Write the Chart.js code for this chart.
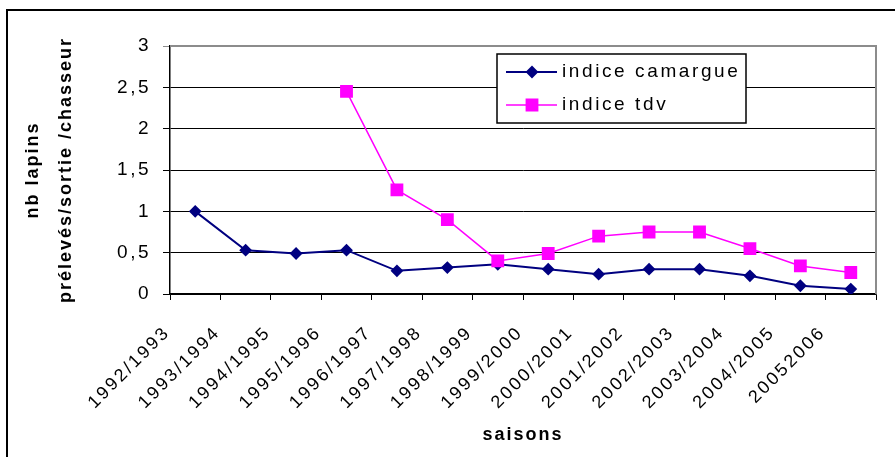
<!DOCTYPE html>
<html lang="fr">
<head>
<meta charset="UTF-8">
<title>Indice lapins prélevés</title>
<script src="https://cdn.jsdelivr.net/npm/chart.js"></script>
<style>
  body { margin: 0; background: #fff; }
  #wrap { position: relative; width: 895px; height: 457px; overflow: hidden; }
  #cadre {
    position: absolute; left: 6px; top: 9px; width: 1000px; height: 1000px;
    border-top: 2px solid #000; border-left: 2px solid #000;
  }
  canvas { position: absolute; left: 0; top: 0; }
</style>
</head>
<body>
<div id="wrap">
  <div id="cadre"></div>
  <canvas id="graph" width="895" height="457"></canvas>
</div>
<script>
// données
const saisons = ['1992/1993', '1993/1994', '1994/1995', '1995/1996', '1996/1997', '1997/1998',
  '1998/1999', '1999/2000', '2000/2001', '2001/2002', '2002/2003', '2003/2004', '2004/2005', '20052006'];
const indiceCamargue = [1.0, 0.53, 0.49, 0.53, 0.28, 0.32, 0.36, 0.30, 0.24, 0.30, 0.30, 0.22, 0.10, 0.06];
const indiceTdv = [null, null, null, 2.45, 1.26, 0.90, 0.40, 0.49, 0.70, 0.75, 0.75, 0.55, 0.34, 0.26];
const yMin = 0, yMax = 3, yPas = 0.5;
const titreY = ['nb lapins', 'prélevés/sortie /chasseur'];
const titreX = 'saisons';

const police = '"Liberation Sans", Arial, sans-serif';
Chart.defaults.font.family = police;
Chart.defaults.color = '#000';

// texte un peu espacé comme dans Excel
const espacement = {
  id: 'espacement',
  beforeDraw(chart) { chart.ctx.letterSpacing = '2.5px'; }
};

// cadre gris du haut et de droite de la zone de tracé
const cadreZone = {
  id: 'cadreZone',
  beforeDatasetsDraw(chart) {
    const { ctx, chartArea: a } = chart;
    ctx.save();
    ctx.strokeStyle = '#8c8c8c';
    ctx.lineWidth = 2;
    ctx.beginPath();
    ctx.moveTo(a.left, a.top);
    ctx.lineTo(a.right, a.top);
    ctx.lineTo(a.right, a.bottom);
    ctx.stroke();
    ctx.restore();
  }
};

// légende façon Excel (trait + marqueur) et titres des axes
const legendeExcel = {
  id: 'legendeExcel',
  afterDraw(chart) {
    const ctx = chart.ctx;
    const a = chart.chartArea;
    ctx.save();
    ctx.fillStyle = '#fff';
    ctx.strokeStyle = '#000';
    ctx.lineWidth = 1.5;
    ctx.fillRect(497, 54, 249, 69);
    ctx.strokeRect(497, 54, 249, 69);
    ctx.font = '19px ' + police;
    ctx.letterSpacing = '2.6px';
    ctx.textBaseline = 'middle';
    chart.data.datasets.forEach((ds, i) => {
      const y = 72 + i * 33;
      ctx.strokeStyle = ds.borderColor;
      ctx.lineWidth = ds.borderWidth;
      ctx.beginPath();
      ctx.moveTo(506, y);
      ctx.lineTo(557, y);
      ctx.stroke();
      ctx.fillStyle = ds.pointBackgroundColor;
      ctx.strokeStyle = ds.pointBorderColor;
      Chart.helpers.drawPoint(ctx, { pointStyle: ds.pointStyle, radius: ds.pointRadius, rotation: 0, borderWidth: 1 }, 532, y);
      ctx.fillStyle = '#000';
      ctx.fillText(ds.label, 562, y);
    });

    // titre des abscisses
    ctx.font = 'bold 18px ' + police;
    ctx.letterSpacing = '2px';
    ctx.textAlign = 'center';
    ctx.fillText(titreX, (a.left + a.right) / 2, 435);

    // titre des ordonnées, deux lignes verticales
    ctx.translate(0, (a.top + a.bottom) / 2);
    ctx.rotate(-Math.PI / 2);
    titreY.forEach((t, i) => ctx.fillText(t, 0, 33 + i * 33));
    ctx.restore();
  }
};

new Chart(document.getElementById('graph'), {
  type: 'line',
  data: {
    labels: saisons,
    datasets: [{
      label: 'indice camargue',
      data: indiceCamargue,
      borderColor: '#000080',
      backgroundColor: '#000080',
      pointBackgroundColor: '#000080',
      pointBorderColor: '#000080',
      borderWidth: 2,
      pointStyle: 'rectRot',
      pointRadius: 5,
      tension: 0,
      order: 1
    }, {
      label: 'indice tdv',
      data: indiceTdv,
      borderColor: '#ff00ff',
      backgroundColor: '#ff00ff',
      pointBackgroundColor: '#ff00ff',
      pointBorderColor: '#ff00ff',
      borderWidth: 1.5,
      pointStyle: 'rect',
      pointRadius: 8,
      tension: 0,
      order: 0
    }]
  },
  options: {
    responsive: false,
    animation: false,
    layout: { padding: { top: 46, right: 19, left: 0, bottom: 0 } },
    plugins: {
      legend: { display: false },
      tooltip: { enabled: false }
    },
    scales: {
      x: {
        offset: true,
        grid: { offset: true, drawOnChartArea: false, color: '#000', tickLength: 6 },
        border: { color: '#000', width: 1.5 },
        ticks: {
          autoSkip: false,
          minRotation: 45,
          maxRotation: 45,
          labelOffset: -28,
          padding: 22,
          font: { size: 18 }
        },
        afterFit(scale) { scale.height = 163; }
      },
      y: {
        min: yMin,
        max: yMax,
        grid: {
          color: (c) => (c.tick && c.tick.value === yMax ? '#8c8c8c' : '#000'),
          tickLength: 7
        },
        border: { color: '#000', width: 1.5 },
        ticks: {
          stepSize: yPas,
          padding: 12,
          font: { size: 19 },
          callback: (v) => String(v).replace('.', ',')
        },
        afterFit(scale) { scale.width = 170; }
      }
    }
  },
  plugins: [espacement, cadreZone, legendeExcel]
});
</script>
</body>
</html>
